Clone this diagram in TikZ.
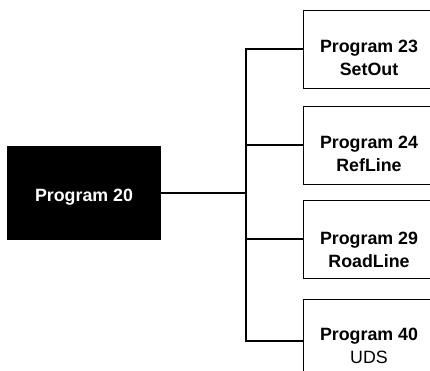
\documentclass[tikz,border=0pt]{standalone}
\usepackage{fontspec}
\setmainfont{Liberation Sans}
\begin{document}
\begin{tikzpicture}[x=1pt,y=-1pt,
  txt/.style={inner sep=0pt,anchor=base,align=center,font=\fontsize{17.8}{23}\selectfont\bfseries},
  progbox/.style={draw=black,line width=0.8pt,fill=white,minimum width=132pt,minimum height=78pt,inner sep=0pt},
  wire/.style={line width=1.7pt,line cap=rect}]
\useasboundingbox (0,0) rectangle (430,371);
% main box
\node[fill=black,minimum width=154pt,minimum height=94pt,inner sep=0pt] (main) at (84,193) {};
\node[txt,text=white] (maintxt) at (84,201) {Program 20};
% right boxes
\node[progbox] (b1) at (369,49) {};
\node[progbox] (b2) at (369,145) {};
\node[progbox] (b3) at (369,239) {};
\node[progbox,minimum height=84pt] (b4) at (369,341) {};
\node[txt] (t1) at (369,76) {Program 23\\SetOut};
\node[txt] (t2) at (369,172) {Program 24\\RefLine};
\node[txt] (t3) at (369,267) {Program 29\\RoadLine};
\node[txt] (t4) at (369,363) {Program 40\\\mdseries UDS};
% bus
\coordinate (bus) at (246,193);
\coordinate (bustop) at (246,49);
\coordinate (busbot) at (246,341);
\draw[wire] (main.east) -- (bus);
\draw[wire] (b1.west) -- (bustop) -- (busbot) -- (b4.west);
\draw[wire] (b2.west) -- (b2.west -| bus);
\draw[wire] (b3.west) -- (b3.west -| bus);
\end{tikzpicture}
\end{document}
